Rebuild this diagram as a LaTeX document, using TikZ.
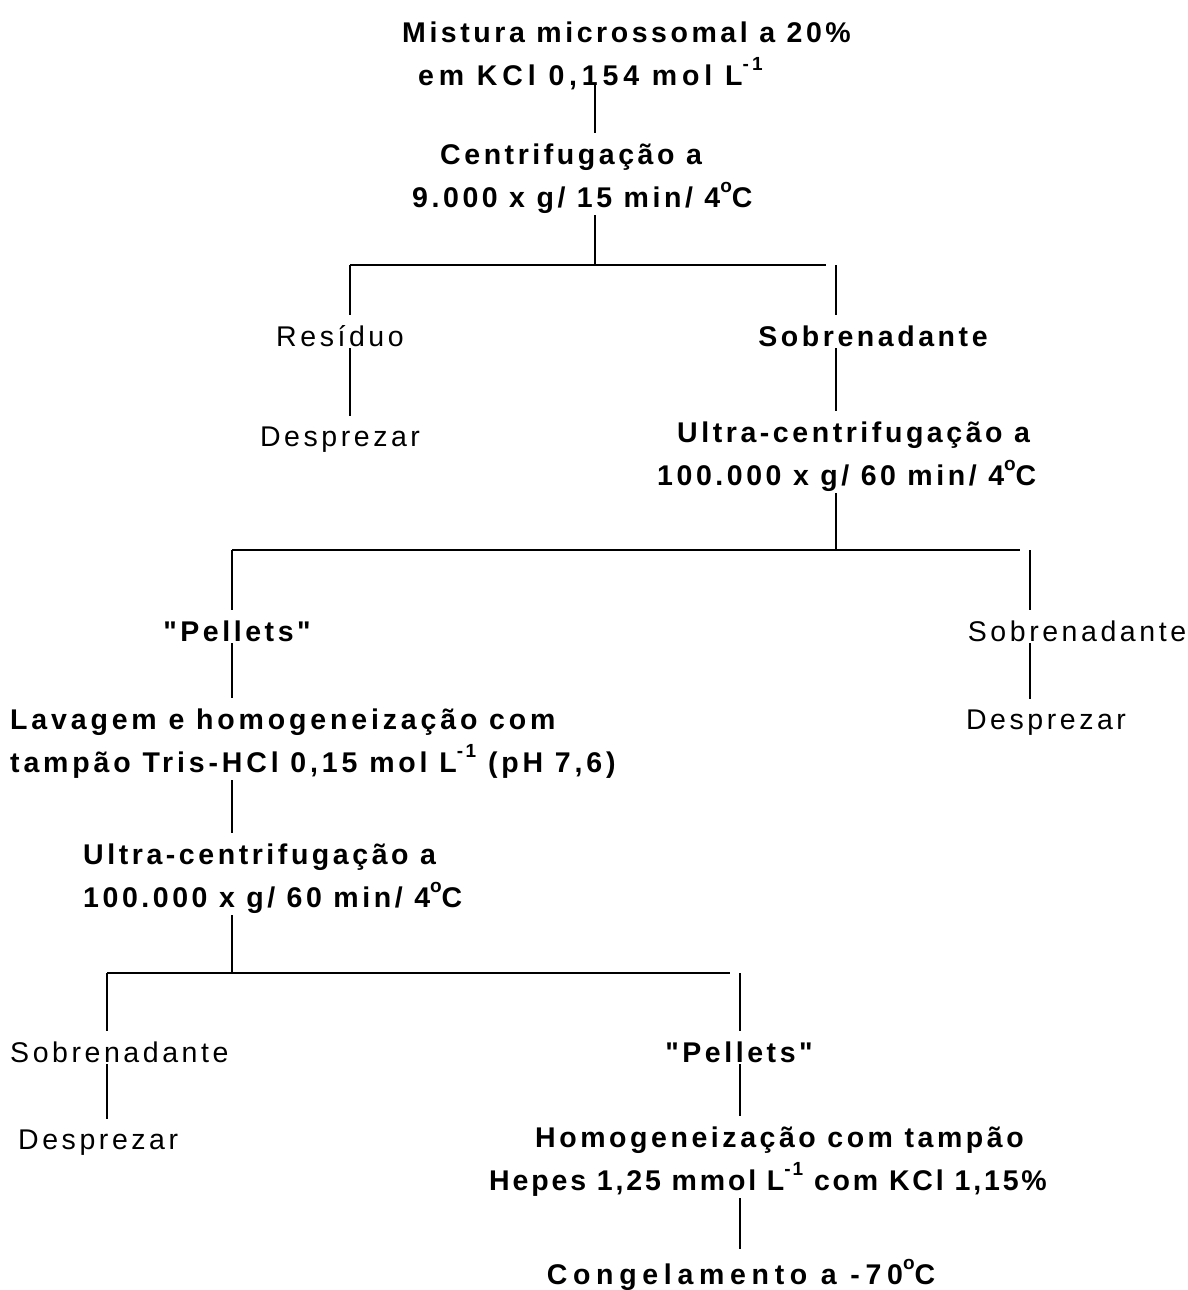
\documentclass[tikz,border=0pt]{standalone}
\usepackage{fontspec}
\setmainfont{Liberation Sans}[LetterSpace=12.5,Ligatures=TeXOff]
\usetikzlibrary{calc,positioning}
\newcommand{\letra}{\fontsize{28.5}{43}\selectfont}
\newcommand{\sobe}[1]{\raisebox{0.5em}{\fontsize{19}{19}\selectfont#1}}
\newcommand{\esp}[1]{\addfontfeature{LetterSpace=#1}}
\tikzset{passo/.style={inner sep=0pt,anchor=base west,align=left,font=\letra\bfseries},
  resto/.style={inner sep=0pt,anchor=base,font=\letra},
  fase/.style={inner sep=0pt,anchor=base,font=\letra\bfseries},
  liga/.style={draw=black,line width=1.6pt,shorten <=2pt,shorten >=10pt}}

\begin{document}
\begin{tikzpicture}[x=1pt,y=-1pt]
	\useasboundingbox (0,0) rectangle (1187,1290);
	\begin{scope}
		\node[passo] (mist) at (402,85) {Mistura microssomal a 20\%\\\hspace*{16pt}{\esp{17}em KCl 0,154 mol L\sobe{-1}}};
		\node[passo] (cent) at (412,207) {\hspace*{28pt}Centrifugação a\\9.000 x g/ 15 min/ 4\sobe{o}C};
		\node[resto] (res) at (340,346) {Resíduo};
		\node[resto] (desp1) at (340,446) {Desprezar};
		\node[fase] (sob1) at (873,346) {Sobrenadante};
		\node[passo] (ultra1) at (657,485) {\hspace*{20pt}Ultra-centrifugação a\\100.000 x g/ 60 min/ 4\sobe{o}C};
		\node[fase] (pel1) at (237,641) {"Pellets"};
		\node[resto] (sob2) at (1077,641) {Sobrenadante};
		\node[resto] (desp2) at (1046,729) {Desprezar};
		\node[passo,font=\letra\bfseries\esp{13.5}] (lav) at (10,772) {Lavagem e homogeneização com\\tampão Tris-HCl 0,15 mol L\sobe{-1} (pH 7,6)};
		\node[passo] (ultra2) at (83,907) {Ultra-centrifugação a\\100.000 x g/ 60 min/ 4\sobe{o}C};
		\node[resto,anchor=base west] (sob3) at (10,1062) {Sobrenadante};
		\node[resto,anchor=base west] (desp3) at (18,1149) {Desprezar};
		\node[fase] (pel2) at (739,1062) {"Pellets"};
		\node[passo] (homo) at (489,1190) {\hspace*{46pt}Homogeneização com tampão\\{\esp{10}Hepes 1,25 mmol L\sobe{-1} com KCl 1,15\%}};
		\node[fase,font=\letra\bfseries\esp{20}] (cong) at (741,1284) {Congelamento a -70\sobe{o}C};
	\end{scope}

	% pontos de ramificacao
	\coordinate (r1) at (595,265);
	\coordinate (r1e) at (350,265);
	\coordinate (r1d) at (836,265);
	\coordinate (r2) at (836,550);
	\coordinate (r2e) at (232,550);
	\coordinate (r2d) at (1030,550);
	\coordinate (r3) at (232,973);
	\coordinate (r3e) at (107,973);
	\coordinate (r3d) at (740,973);

	\begin{scope}[every path/.style={liga}]
		\draw[shorten <=0pt] (mist.base -| r1) -- (cent.north -| r1);
		\draw[shorten >=0pt] (cent.south -| r1) -- (r1);
		\draw[shorten <=0pt] (r1e) -- (r1d);
		\draw[shorten <=0pt] (r1e) -- (res.north -| r1e);
		\draw[shorten <=0pt] (r1d) -- (sob1.north -| r1d);
		\draw (res.south -| r1e) -- (desp1.north -| r1e);
		\draw (sob1.south -| r1d) -- (ultra1.north -| r1d);
		\draw[shorten >=0pt] (ultra1.south -| r2) -- (r2);
		\draw[shorten <=0pt] (r2e) -- (r2d);
		\draw[shorten <=0pt] (r2e) -- (pel1.north -| r2e);
		\draw[shorten <=0pt] (r2d) -- (sob2.north -| r2d);
		\draw (pel1.south -| r2e) -- (lav.north -| r2e);
		\draw (sob2.south -| r2d) -- (desp2.north -| r2d);
		\draw (lav.south -| r3) -- (ultra2.north -| r3);
		\draw[shorten >=0pt] (ultra2.south -| r3) -- (r3);
		\draw[shorten <=0pt] (r3e) -- (r3d);
		\draw[shorten <=0pt] (r3e) -- (sob3.north -| r3e);
		\draw[shorten <=0pt] (r3d) -- (pel2.north -| r3d);
		\draw (sob3.south -| r3e) -- (desp3.north -| r3e);
		\draw (pel2.south -| r3d) -- (homo.north -| r3d);
		\draw (homo.south -| r3d) -- (cong.north -| r3d);
	\end{scope}
\end{tikzpicture}
\end{document}
